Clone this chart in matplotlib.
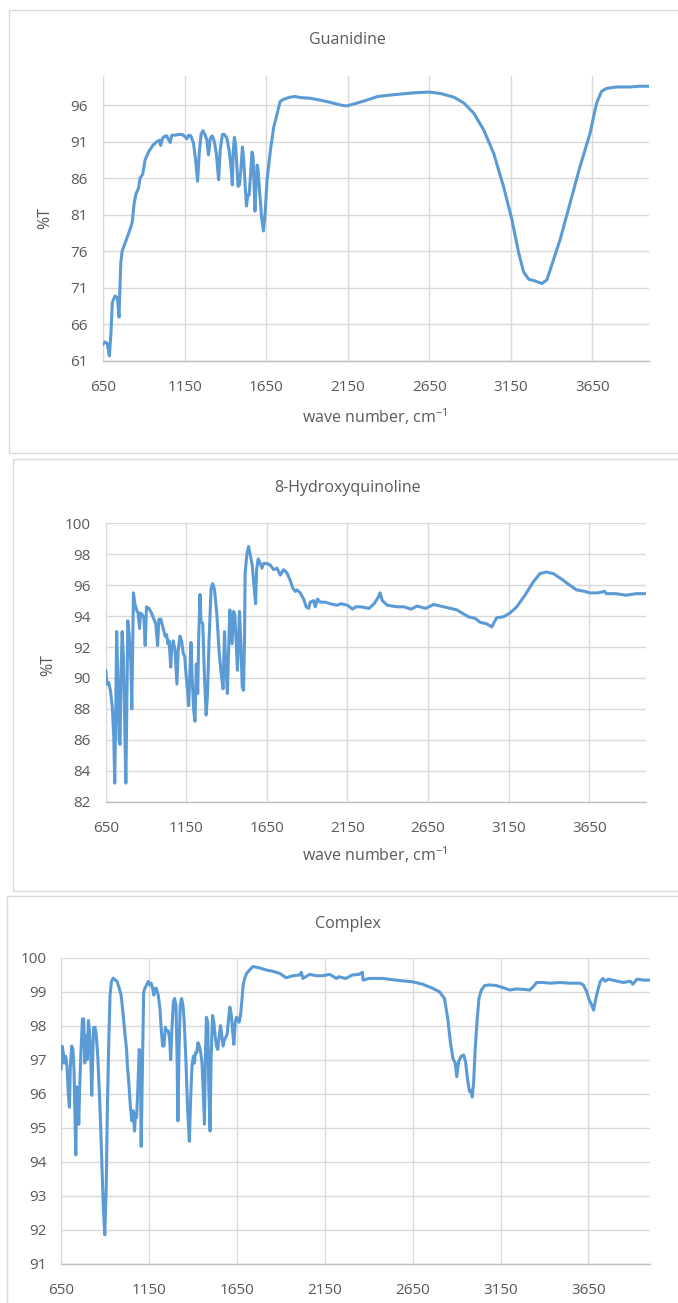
import numpy as np
import matplotlib.pyplot as plt
from matplotlib.patches import Rectangle

plt.rcParams['font.family'] = ['Open Sans', 'DejaVu Sans']
plt.rcParams['mathtext.default'] = 'regular'

# ---- data: (wave number, %T) ----
guanidine = [
    (650, 63.3), (662, 63.6), (676, 63.4), (689, 61.7), (699, 64.9), (707, 69.0),
    (724, 69.9), (738, 69.7), (748, 67.0), (759, 74.4), (767, 76.0), (785, 77.1),
    (806, 78.4), (822, 79.4), (830, 80.1), (841, 82.6), (853, 83.9), (867, 84.6),
    (877, 86.0), (894, 86.6), (908, 88.5), (929, 89.6), (955, 90.5), (980, 91.0),
    (996, 91.2), (1004, 90.5), (1015, 91.5), (1031, 91.8), (1041, 91.8), (1052, 91.3),
    (1062, 90.9), (1072, 91.9), (1093, 91.9), (1113, 92.0), (1134, 92.0), (1154, 91.7),
    (1164, 91.4), (1175, 91.9), (1189, 91.8), (1205, 90.8), (1218, 88.5), (1230, 85.6),
    (1240, 89.4), (1252, 92.1), (1263, 92.5), (1277, 91.9), (1287, 91.2), (1297, 89.2),
    (1308, 91.5), (1320, 91.8), (1332, 91.1), (1345, 89.4), (1359, 85.8), (1369, 89.9),
    (1382, 92.0), (1394, 92.0), (1410, 91.5), (1425, 89.6), (1437, 87.1), (1443, 85.1),
    (1449, 89.9), (1456, 91.6), (1464, 90.3), (1472, 87.1), (1478, 84.9), (1487, 85.1),
    (1495, 87.1), (1505, 90.3), (1513, 88.5), (1522, 84.9), (1530, 82.2), (1538, 83.7),
    (1546, 83.7), (1554, 86.2), (1564, 89.6), (1570, 89.0), (1577, 84.4), (1582, 81.5),
    (1589, 85.3), (1595, 87.8), (1601, 87.1), (1611, 84.0), (1623, 80.5), (1634, 78.8),
    (1644, 81.2), (1656, 85.8), (1677, 89.9), (1697, 93.0), (1713, 94.4), (1736, 96.5),
    (1756, 96.8), (1797, 97.1), (1828, 97.2), (1858, 97.05), (1919, 96.96), (1981, 96.7),
    (2042, 96.4), (2103, 96.05), (2142, 95.9), (2193, 96.2), (2254, 96.6), (2335, 97.2),
    (2437, 97.45), (2559, 97.7), (2650, 97.8), (2721, 97.6), (2802, 97.1), (2863, 96.3),
    (2924, 94.9), (2985, 92.6), (3046, 89.4), (3107, 84.8), (3158, 80.3), (3199, 75.8),
    (3229, 73.2), (3260, 72.2), (3300, 71.95), (3341, 71.6), (3372, 72.1), (3412, 74.8),
    (3453, 77.6), (3514, 82.6), (3575, 87.6), (3636, 92.1), (3677, 96.3), (3707, 97.9),
    (3738, 98.3), (3799, 98.5), (3880, 98.5), (3941, 98.6), (3998, 98.6),
]

hydroxyquinoline = [
    (650, 90.5), (658, 89.6), (669, 89.7), (679, 89.2), (691, 88.1), (700, 86.2),
    (706, 83.2), (712, 87.5), (718, 93.0), (727, 89.2), (733, 86.0), (739, 85.7),
    (745, 90.3), (752, 93.0), (760, 91.4), (768, 87.1), (775, 83.2), (781, 88.1),
    (787, 93.7), (795, 92.9), (806, 90.9), (812, 88.0), (818, 92.7), (822, 95.5),
    (831, 94.8), (841, 94.4), (851, 94.2), (860, 93.2), (866, 94.2), (876, 94.1),
    (887, 93.9), (895, 92.1), (903, 94.6), (918, 94.5), (934, 94.2), (949, 93.8),
    (961, 93.5), (972, 92.1), (980, 93.8), (992, 93.8), (1007, 93.2), (1019, 92.7),
    (1028, 92.8), (1036, 92.2), (1044, 92.4), (1053, 90.7), (1059, 91.8), (1069, 92.4),
    (1080, 91.8), (1092, 89.6), (1100, 91.8), (1111, 92.7), (1121, 92.4), (1131, 91.6),
    (1140, 91.4), (1148, 90.3), (1156, 89.4), (1165, 88.2), (1173, 90.5), (1179, 92.3),
    (1187, 89.9), (1196, 87.9), (1204, 87.2), (1212, 90.9), (1221, 89.0), (1227, 92.7),
    (1235, 95.4), (1241, 93.7), (1252, 93.5), (1262, 90.3), (1273, 87.6), (1281, 88.8),
    (1291, 92.4), (1304, 95.8), (1314, 96.1), (1325, 95.7), (1339, 94.2), (1353, 91.8),
    (1366, 90.3), (1378, 89.3), (1387, 93.0), (1395, 90.7), (1405, 89.0), (1414, 92.4),
    (1420, 94.4), (1426, 93.5), (1434, 92.2), (1443, 94.3), (1451, 94.1), (1459, 92.4),
    (1467, 90.5), (1474, 92.4), (1480, 94.3), (1488, 92.4), (1497, 89.4), (1505, 89.2),
    (1511, 92.4), (1515, 96.8), (1526, 98.0), (1536, 98.5), (1546, 98.0), (1559, 97.3),
    (1567, 96.3), (1580, 94.8), (1586, 97.0), (1596, 97.7), (1609, 97.4), (1619, 97.1),
    (1630, 97.4), (1650, 97.4), (1671, 97.3), (1692, 97.0), (1713, 97.1), (1733, 96.65),
    (1753, 97.0), (1774, 96.8), (1795, 96.3), (1811, 95.8), (1826, 95.6), (1836, 95.7),
    (1857, 95.5), (1878, 95.1), (1894, 94.6), (1909, 94.5), (1919, 94.9), (1940, 95.0),
    (1950, 94.6), (1964, 95.1), (1981, 94.9), (2012, 94.9), (2043, 94.8), (2084, 94.7),
    (2109, 94.8), (2150, 94.7), (2181, 94.45), (2201, 94.6), (2232, 94.6), (2284, 94.5),
    (2315, 94.8), (2340, 95.2), (2352, 95.5), (2366, 95.0), (2397, 94.7), (2459, 94.6),
    (2500, 94.6), (2545, 94.45), (2582, 94.65), (2634, 94.5), (2685, 94.75), (2747, 94.6),
    (2829, 94.4), (2901, 93.95), (2942, 93.85), (2973, 93.6), (3014, 93.5), (3045, 93.3),
    (3060, 93.6), (3076, 93.9), (3117, 93.95), (3158, 94.2), (3200, 94.6), (3251, 95.35),
    (3302, 96.2), (3344, 96.75), (3385, 96.85), (3426, 96.75), (3477, 96.4), (3529, 96.0),
    (3570, 95.7), (3621, 95.6), (3652, 95.5), (3704, 95.5), (3745, 95.6), (3755, 95.45),
    (3817, 95.45), (3879, 95.35), (3940, 95.45), (3996, 95.45),
]

complex_ = [
    (650, 96.73), (656, 97.4), (663, 97.2), (669, 96.9), (677, 97.1), (684, 96.8),
    (692, 95.95), (698, 95.6), (703, 96.8), (711, 97.4), (718, 97.3), (724, 96.7),
    (730, 95.2), (734, 94.2), (739, 96.2), (745, 96.1), (751, 95.1), (756, 96.15),
    (764, 97.3), (772, 98.2), (779, 98.2), (785, 96.9), (791, 97.7), (798, 97.0),
    (806, 98.15), (813, 97.8), (819, 97.1), (825, 95.95), (831, 97.2), (836, 97.95),
    (844, 97.95), (851, 97.7), (859, 97.1), (869, 95.95), (876, 94.97), (884, 93.7),
    (891, 92.6), (899, 91.85), (907, 93.2), (914, 95.65), (922, 97.6), (929, 98.9),
    (937, 99.3), (947, 99.4), (958, 99.35), (969, 99.3), (981, 99.1), (992, 98.9),
    (1004, 98.3), (1013, 97.8), (1023, 97.3), (1028, 96.8), (1036, 96.3), (1045, 95.6),
    (1053, 95.2), (1061, 95.5), (1068, 94.9), (1074, 95.4), (1080, 95.3), (1087, 96.15),
    (1095, 97.3), (1101, 97.1), (1106, 94.45), (1114, 97.1), (1120, 98.98), (1127, 99.1),
    (1137, 99.2), (1146, 99.3), (1156, 99.2), (1163, 99.25), (1171, 99.1), (1178, 98.9),
    (1186, 99.1), (1192, 99.1), (1203, 98.9), (1213, 98.5), (1220, 97.9), (1228, 97.4),
    (1236, 97.4), (1243, 97.95), (1251, 97.85), (1260, 97.85), (1268, 97.6), (1274, 97.0),
    (1281, 97.9), (1289, 98.7), (1296, 98.8), (1304, 98.6), (1310, 97.1), (1315, 95.2),
    (1321, 97.2), (1328, 98.6), (1336, 98.8), (1344, 98.6), (1351, 98.1), (1361, 96.9),
    (1370, 95.55), (1380, 94.6), (1388, 95.95), (1395, 96.8), (1403, 97.1), (1409, 96.9),
    (1414, 97.2), (1422, 97.2), (1429, 97.5), (1437, 97.4), (1445, 97.2), (1452, 96.9),
    (1460, 95.95), (1466, 95.1), (1471, 97.0), (1477, 98.25), (1485, 98.1), (1490, 96.3),
    (1498, 94.9), (1504, 97.1), (1512, 98.3), (1519, 98.1), (1527, 97.7), (1534, 97.4),
    (1542, 97.3), (1550, 97.7), (1557, 98.0), (1565, 97.7), (1572, 97.4), (1580, 97.6),
    (1587, 97.65), (1595, 97.75), (1603, 98.2), (1610, 98.55), (1618, 98.35), (1625, 97.9),
    (1633, 97.45), (1641, 98.1), (1648, 98.25), (1656, 98.2), (1663, 98.1), (1671, 98.3),
    (1678, 98.7), (1686, 99.2), (1695, 99.4), (1707, 99.55), (1741, 99.74), (1779, 99.7),
    (1817, 99.64), (1855, 99.6), (1893, 99.54), (1931, 99.41), (1969, 99.47), (2007, 99.49),
    (2017, 99.57), (2026, 99.39), (2064, 99.51), (2102, 99.47), (2140, 99.47), (2178, 99.51),
    (2216, 99.39), (2231, 99.44), (2269, 99.39), (2307, 99.49), (2345, 99.51), (2364, 99.57),
    (2368, 99.34), (2402, 99.39), (2479, 99.39), (2555, 99.34), (2650, 99.29), (2707, 99.22),
    (2764, 99.1), (2802, 99.0), (2831, 98.8), (2850, 98.2), (2865, 97.5), (2879, 97.04),
    (2892, 96.9), (2901, 96.5), (2911, 96.94), (2926, 97.1), (2940, 97.14), (2951, 96.94),
    (2964, 96.35), (2974, 96.06), (2983, 96.1), (2989, 95.9), (2997, 96.35), (3006, 97.33),
    (3016, 98.1), (3027, 98.8), (3041, 99.05), (3060, 99.18), (3088, 99.2), (3126, 99.18),
    (3164, 99.12), (3202, 99.05), (3240, 99.08), (3279, 99.07), (3317, 99.05), (3336, 99.15),
    (3355, 99.27), (3393, 99.27), (3431, 99.25), (3488, 99.27), (3545, 99.25), (3602, 99.25),
    (3621, 99.2), (3640, 99.0), (3655, 98.75), (3669, 98.6), (3679, 98.46), (3688, 98.7),
    (3701, 99.0), (3717, 99.3), (3732, 99.39), (3745, 99.31), (3764, 99.37), (3812, 99.31),
    (3850, 99.27), (3888, 99.31), (3903, 99.22), (3926, 99.37), (3964, 99.34), (4002, 99.34),
]

titles = ['Guanidine', '8-Hydroxyquinoline', 'Complex']
x_ticks = [650, 1150, 1650, 2150, 2650, 3150, 3650]
y_ticks_gua = [61, 66, 71, 76, 81, 86, 91, 96]
y_ticks_hq = [82, 84, 86, 88, 90, 92, 94, 96, 98, 100]
y_ticks_cx = [91, 92, 93, 94, 95, 96, 97, 98, 99, 100]

LINE = '#5B9BD5'
GRID = '#D9D9D9'
TXT = '#595959'

W, H = 678, 1303
fig = plt.figure(figsize=(W / 100, H / 100), dpi=100)
fig.patch.set_facecolor('white')


def axes_px(left, top, right, bottom):
    return fig.add_axes([left / W, 1 - bottom / H, (right - left) / W, (bottom - top) / H])


def frame_px(left, top, right, bottom):
    fig.patches.append(Rectangle((left / W, 1 - bottom / H), (right - left) / W,
                                 (bottom - top) / H, transform=fig.transFigure,
                                 fill=False, edgecolor=GRID, lw=1.0))


def ftext(x, y, s, **kw):
    fig.text(x / W, 1 - y / H, s, color=TXT, ha='center', va='center', **kw)


def draw(ax, data, ylim, yticks, ypad):
    wn = [p[0] for p in data]
    t = [p[1] for p in data]
    ax.plot(wn, t, color=LINE, lw=2.2, solid_joinstyle='round', zorder=3)
    ax.set_xlim(650, 4000)
    ax.set_ylim(*ylim)
    ax.set_xticks(x_ticks)
    ax.set_yticks(yticks)
    ax.grid(True, color=GRID, lw=1.0)
    ax.set_axisbelow(True)
    for s in ['top', 'right']:
        ax.spines[s].set_visible(False)
    ax.spines['left'].set_color(GRID)
    ax.spines['bottom'].set_color('#BFBFBF')
    ax.spines['bottom'].set_linewidth(1.0)
    ax.tick_params(axis='both', length=0, labelsize=11, colors=TXT)
    ax.tick_params(axis='y', pad=ypad)
    ax.tick_params(axis='x', pad=14)


# chart area borders
frame_px(9, 10, 690, 453)
frame_px(12.7, 459, 690, 891)
frame_px(7, 896, 690, 1320)

ax1 = axes_px(103, 76, 649.3, 361)
draw(ax1, guanidine, (61, 100), y_ticks_gua, 11)
ax2 = axes_px(105.7, 523.3, 645.7, 801.7)
draw(ax2, hydroxyquinoline, (82, 100), y_ticks_hq, 11)
ax3 = axes_px(61, 957.7, 650, 1263.7)
draw(ax3, complex_, (91, 100), y_ticks_cx, 10)

ftext(347, 40, titles[0], fontsize=11.5)
ftext(348, 488, titles[1], fontsize=11.5)
ftext(348, 924, titles[2], fontsize=11.5)

ftext(45, 218, '%T', fontsize=11.5, rotation=90)
ftext(48, 665, '%T', fontsize=11.5, rotation=90)
ftext(375, 417, 'wave number, cm$^{-1}$', fontsize=11.5)
ftext(375, 855, 'wave number, cm$^{-1}$', fontsize=11.5)

fig.savefig('out.png', dpi=100)
